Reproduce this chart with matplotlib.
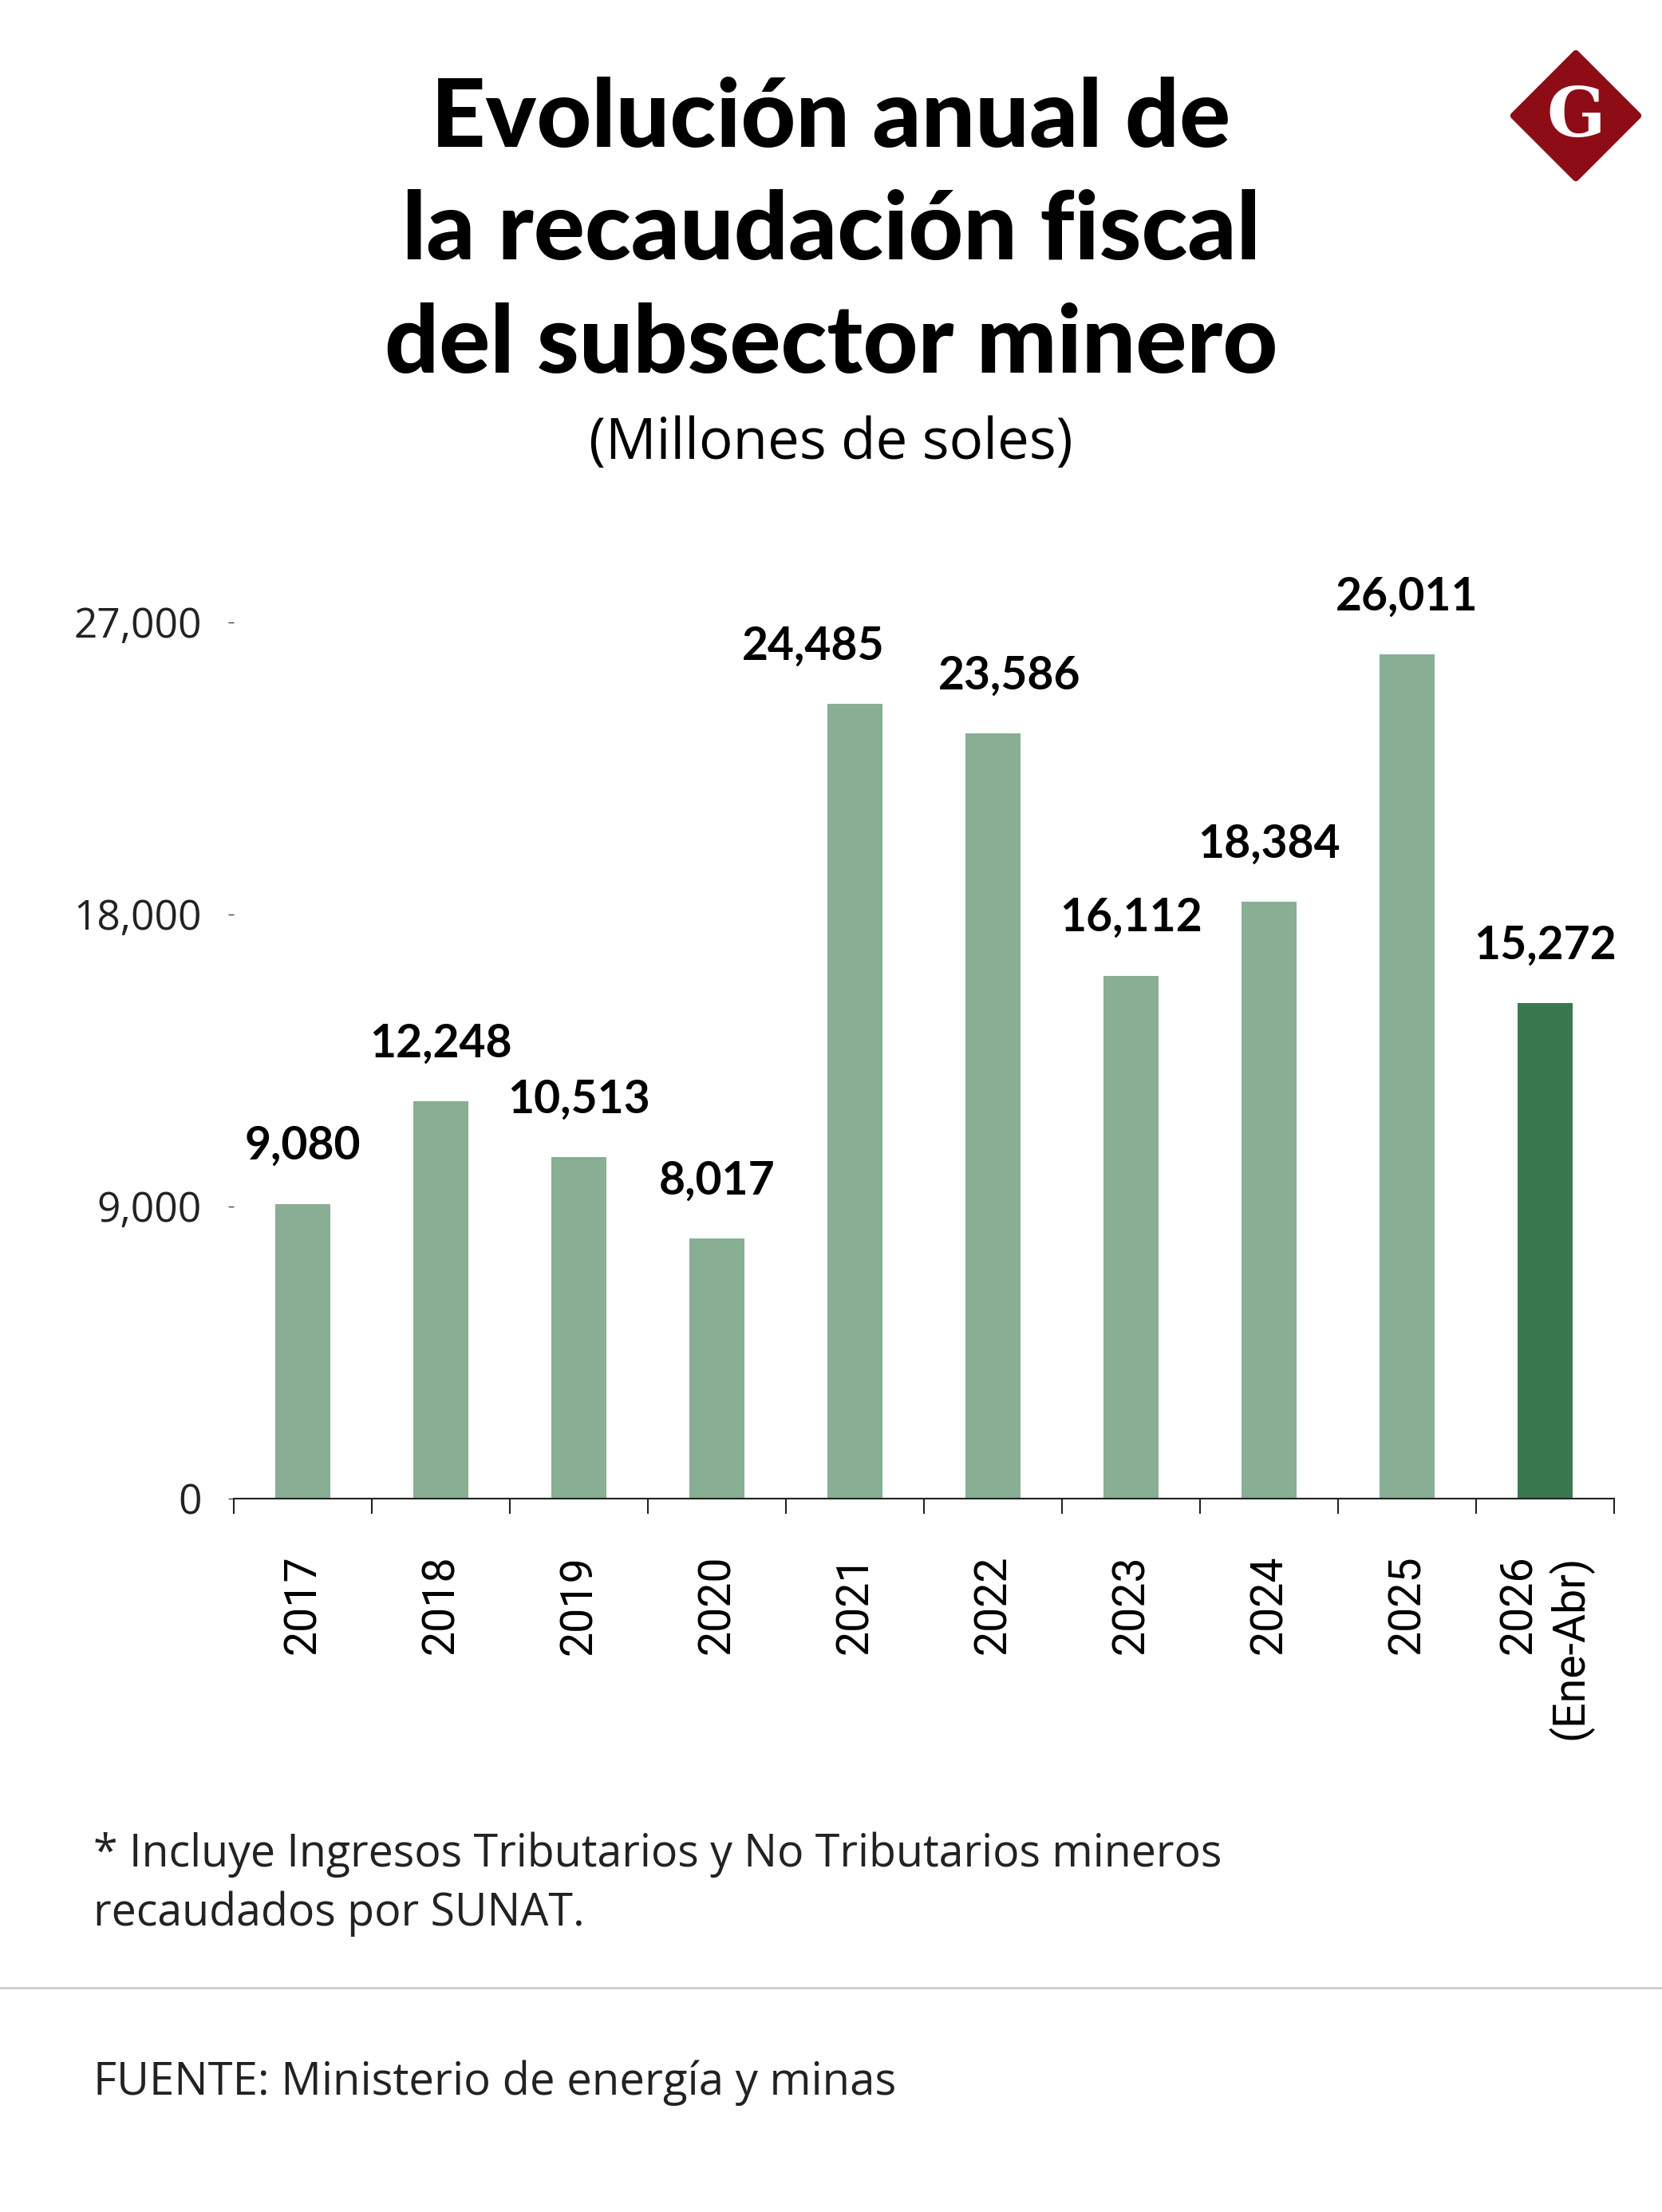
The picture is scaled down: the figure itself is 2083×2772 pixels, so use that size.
import matplotlib
matplotlib.use('Agg')
import matplotlib.pyplot as plt
from matplotlib.patches import Polygon

# data
years = ['2017', '2018', '2019', '2020', '2021', '2022', '2023', '2024', '2025', '2026\n(Ene-Abr)']
values = [9080, 12248, 10513, 8017, 24485, 23586, 16112, 18384, 26011, 15272]
yticks = [0, 9000, 18000, 27000]

# sideways nudge (points) for the two crowded labels
label_nudge = [0, 0, 0, 0, -38, 15, 0, 0, 0, 0]

light_green = '#88ae93'
dark_green = '#3a7850'
bar_colors = [light_green] * 9 + [dark_green]

W, H = 2083, 2772
fig = plt.figure(figsize=(W / 100, H / 100), dpi=100)
fig.patch.set_facecolor('white')


def fx(px):
    return px / W


def fy(py):
    return 1 - py / H


# title block
title_lines = ['Evolución anual de', 'la recaudación fiscal', 'del subsector minero']
for i, line in enumerate(title_lines):
    fig.text(0.5, fy(184 + i * 141.5), line, ha='center', va='baseline',
             fontsize=86, fontweight='black', family=['Lato', 'DejaVu Sans'])
fig.text(0.5, fy(575), '(Millones de soles)', ha='center', va='baseline',
         fontsize=51, family=['Open Sans', 'DejaVu Sans'])

# logo
cx, cy, r = 1975, 145, 78
diamond = Polygon([(fx(cx), fy(cy - r)), (fx(cx + r), fy(cy)), (fx(cx), fy(cy + r)), (fx(cx - r), fy(cy))],
                  closed=True, transform=fig.transFigure, facecolor='#8e0c16', edgecolor='#8e0c16',
                  linewidth=6, joinstyle='round')
fig.patches.append(diamond)
fig.text(fx(cx), fy(cy + 2), 'G', ha='center', va='center', color='white',
         fontsize=62, family=['DejaVu Serif'], fontweight='bold')

# chart
ax = fig.add_axes([fx(293), fy(1878), fx(2023) - fx(293), (1878 - 719) / H])
x = list(range(len(years)))
ax.bar(x, values, width=0.4, color=bar_colors, zorder=2)
ax.set_xlim(-0.5, len(years) - 0.5)
ax.set_ylim(0, 28500)

for xi, v, dx in zip(x, values, label_nudge):
    ax.annotate(f'{v:,}', (xi, v), xytext=(dx, 40), textcoords='offset points',
                ha='center', va='baseline', fontsize=41, fontweight='bold',
                family=['Lato', 'DejaVu Sans'])

for s in ['top', 'right', 'left']:
    ax.spines[s].set_visible(False)
ax.spines['bottom'].set_linewidth(1.5)
ax.spines['bottom'].set_color('#222222')

ax.set_yticks(yticks)
ax.set_yticklabels([f'{t:,}' for t in yticks], fontsize=37, family=['Open Sans', 'DejaVu Sans'],
                   color='#222222')
ax.tick_params(axis='y', length=5, width=1, pad=24, color='#444444')

ax.set_xticks([i - 0.5 for i in range(len(years) + 1)], minor=False)
ax.set_xticklabels([''] * (len(years) + 1))
ax.tick_params(axis='x', which='major', length=14, width=1.5, direction='out', color='#222222')
ax.set_xticks(x, minor=True)
ax.set_xticklabels(years, minor=True, rotation=90, ha='center', va='top', multialignment='right',
                   fontsize=40, family=['Liberation Sans Narrow', 'Roboto', 'DejaVu Sans'])
ax.tick_params(axis='x', which='minor', length=0, pad=51)

# footnote and source
fig.text(fx(117), fy(2339), '* Incluye Ingresos Tributarios y No Tributarios mineros',
         ha='left', va='baseline', fontsize=40, family=['Open Sans', 'DejaVu Sans'], color='#222222')
fig.text(fx(117), fy(2413), 'recaudados por SUNAT.',
         ha='left', va='baseline', fontsize=40, family=['Open Sans', 'DejaVu Sans'], color='#222222')
fig.add_artist(plt.Line2D([0, 1], [fy(2491), fy(2491)], color='#cccccc', linewidth=2,
                          transform=fig.transFigure))
fig.text(fx(117), fy(2625), 'FUENTE: Ministerio de energía y minas',
         ha='left', va='baseline', fontsize=40.5, family=['Open Sans', 'DejaVu Sans'], color='#222222')

plt.savefig('out.png', dpi=100, facecolor='white')
